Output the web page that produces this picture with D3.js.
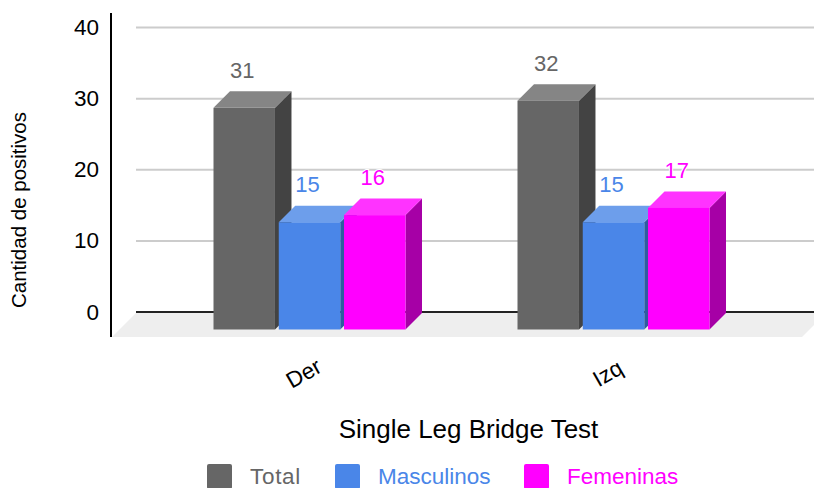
<!DOCTYPE html>
<html><head><meta charset="utf-8">
<script src="https://cdn.jsdelivr.net/npm/d3@7/dist/d3.min.js"></script>
<style>html,body{margin:0;padding:0;background:#fff}svg{display:block}text{font-family:"Liberation Sans",Arial,sans-serif}</style>
</head><body><svg id="c" width="814" height="488"></svg>
<script>
const categories = ["Der", "Izq"];
const seriesNames = ["Total", "Masculinos", "Femeninas"];
const total = [31, 32];
const masculinos = [15, 15];
const femeninas = [16, 17];
const seriesValues = [total, masculinos, femeninas];
const colors = ["#666666", "#4a86e8", "#ff00ff"];
const topColors = ["#858585", "#6d9eeb", "#ff33ff"];
const sideColors = ["#434343", "#2f5c9f", "#a600a6"];
const yTicks = [0, 10, 20, 30, 40];

const svg = d3.select("#c");
const wall = d3.scaleLinear().domain([0, 40]).range([312, 27.5]);
const front = d3.scaleLinear().domain([0, 40]).range([329.5, 43.5]);
const x0 = d3.scaleBand().domain(categories).range([157.5, 765.5]);
const x1 = d3.scaleBand().domain(seriesNames).range([56, 248]).paddingInner(0.058);
const dx = 16.5, dy = 16.5;

svg.selectAll(".grid").data(yTicks.filter(d => d > 0)).join("line")
  .attr("x1", 136).attr("x2", 814).attr("y1", d => wall(d)).attr("y2", d => wall(d))
  .attr("stroke", "#cccccc").attr("stroke-width", 2);

svg.append("path").attr("d", d3.line()([[112, 337], [136, 313], [814, 313], [814, 325], [802, 337]])).attr("fill", "#eeeeee");
svg.append("line").attr("x1", 136).attr("x2", 814).attr("y1", wall(0)).attr("y2", wall(0)).attr("stroke", "#222222").attr("stroke-width", 2);

svg.append("line").attr("x1", 111).attr("x2", 111).attr("y1", 13).attr("y2", 337).attr("stroke", "#000").attr("stroke-width", 2);

svg.selectAll(".yt").data(yTicks).join("text")
  .attr("x", 99).attr("y", d => wall(d) + 7.5).attr("text-anchor", "end")
  .attr("font-size", 22.5).attr("fill", "#000").text(d => d);

const line = d3.line();
categories.forEach((cat, ci) => {
  seriesNames.forEach((s, si) => {
    const v = seriesValues[si][ci];
    const l = x0(cat) + x1(s), r = l + x1.bandwidth();
    const t = front(v), b = front(0);
    const g = svg.append("g");
    g.append("path").attr("d", line([[r, t], [r + dx, t - dy], [r + dx, b - dy], [r, b]]) + "Z").attr("fill", sideColors[si]);
    g.append("path").attr("d", line([[l, t], [l + dx, t - dy], [r + dx, t - dy], [r, t]]) + "Z").attr("fill", topColors[si]);
    g.append("rect").attr("x", l).attr("y", t).attr("width", r - l).attr("height", b - t).attr("fill", colors[si]);
  });
});

categories.forEach((cat, ci) => {
  seriesNames.forEach((s, si) => {
    const v = seriesValues[si][ci];
    const l = x0(cat) + x1(s), r = l + x1.bandwidth();
    svg.append("text").attr("x", (l + r) / 2 - 2).attr("y", front(v) - dy - 13.5)
      .attr("text-anchor", "middle").attr("font-size", 22)
      .attr("fill", colors[si]).attr("stroke", "#fff").attr("stroke-width", 2).attr("paint-order", "stroke")
      .text(v);
  });
});

categories.forEach(cat => {
  const cx = x0(cat) + x0.bandwidth() / 2 - 2;
  svg.append("text").attr("transform", `translate(${cx},380) rotate(-30)`)
    .attr("text-anchor", "middle").attr("font-size", 22.5).attr("fill", "#000").text(cat);
});

svg.append("text").attr("transform", "translate(26,210) rotate(-90)").attr("text-anchor", "middle")
  .attr("font-size", 20.5).attr("fill", "#000").text("Cantidad de positivos");
svg.append("text").attr("x", 468.5).attr("y", 438).attr("text-anchor", "middle")
  .attr("font-size", 26).attr("fill", "#000").text("Single Leg Bridge Test");

const legendSwatch = [207, 335, 524];
seriesNames.forEach((s, i) => {
  svg.append("rect").attr("x", legendSwatch[i]).attr("y", 464).attr("width", 25).attr("height", 25).attr("rx", 2).attr("fill", colors[i]);
  svg.append("text").attr("x", legendSwatch[i] + 43).attr("y", 484).attr("font-size", 22.5)
    .attr("letter-spacing", i === 0 ? 0.7 : 0).attr("fill", colors[i]).text(s);
});
</script></body></html>
